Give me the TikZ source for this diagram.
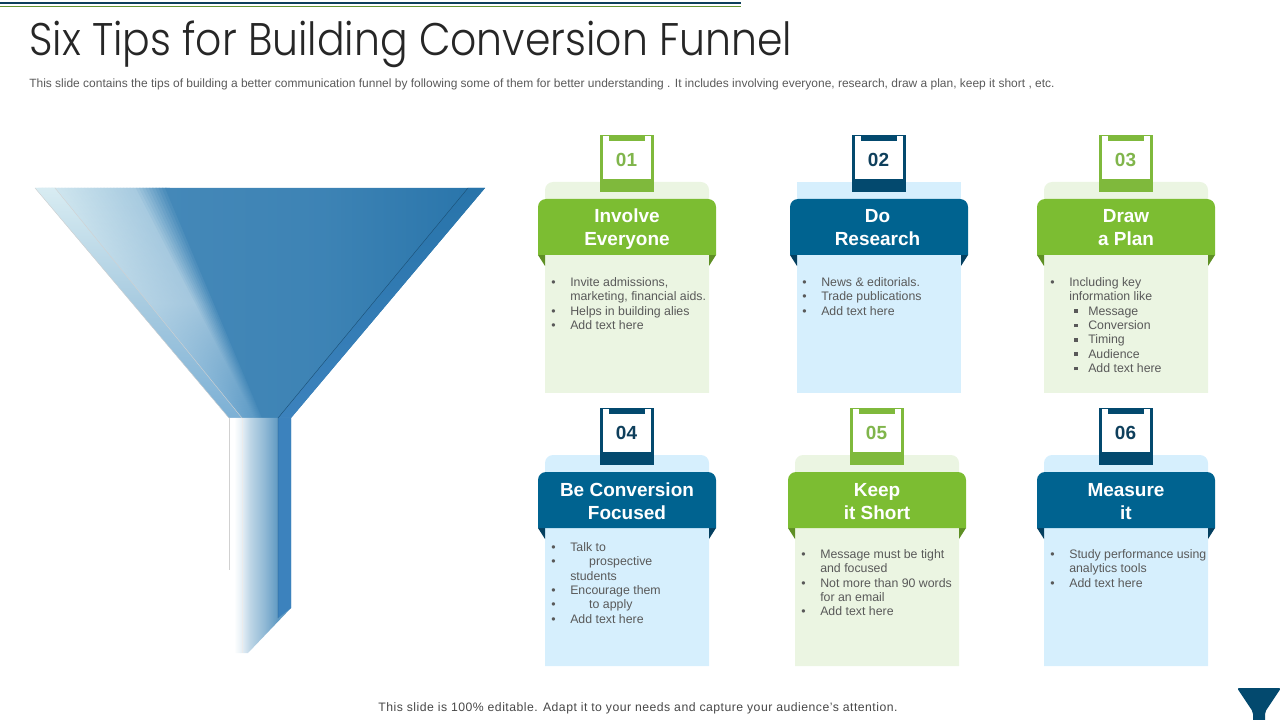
\documentclass[tikz,border=0pt]{standalone}
\usepackage{fontspec}
\usepackage{xcolor}
\setmainfont{Liberation Sans}
\newfontfamily\titlefont[UprightFont=* Light,FakeStretch=0.896]{Poppins}
\definecolor{maingreen}{HTML}{7CBD32}
\definecolor{darkgreen}{HTML}{5E8F24}
\definecolor{palegreen}{HTML}{EBF5E2}
\definecolor{tabgreen}{HTML}{7FB93C}
\definecolor{numgreen}{HTML}{80B54B}
\definecolor{mainblue}{HTML}{006390}
\definecolor{darkblue}{HTML}{043F5F}
\definecolor{paleblue}{HTML}{D6EFFD}
\definecolor{tabblue}{HTML}{03496E}
\definecolor{numblue}{HTML}{0E3F5C}
\definecolor{bodygrey}{HTML}{595959}
\definecolor{conemid}{HTML}{4488B8}
\definecolor{conedeep}{HTML}{2874AA}
\definecolor{toplight}{HTML}{D8ECF2}
\definecolor{topmid}{HTML}{A8CBE0}
\definecolor{midlight}{HTML}{B8D5E6}
\definecolor{midmid}{HTML}{A4C7DE}
\definecolor{botlight}{HTML}{7CB0D5}
\definecolor{botmid}{HTML}{5E9BC6}
\definecolor{rimblue}{HTML}{3C82BD}
\pgfdeclarehorizontalshading{stemshade}{100bp}{%
    color(0bp)=(white); color(29bp)=(white);
    color(35.5bp)=(white!86!conemid);
    color(42bp)=(white!65!conemid);
    color(54bp)=(white!40!conemid);
    color(64.5bp)=(white!15!conemid);
    color(100bp)=(white!15!conemid)}
\tikzset{
    headtext/.style={align=center, text=white, font=\fontsize{13.5}{16.4}\selectfont\bfseries},
    numtext/.style={font=\fontsize{13.5}{16}\selectfont\bfseries},
    bodytext/.style={anchor=north west, inner sep=0pt, align=left, text=bodygrey,
        font=\fontsize{8.77}{10.25}\selectfont},
}
\newcommand{\headlines}[2]{\strut #1\\\strut #2}
\newcommand{\tipitem}[1]{\makebox[13.5pt][l]{\textbullet}#1}
\newcommand{\tipmore}[1]{\hspace*{13.5pt}#1}
\newcommand{\tipsub}[1]{\hspace*{17pt}\makebox[10pt][l]{\raisebox{1.6pt}{\rule{2.6pt}{2.6pt}}}#1}
\begin{document}
\begin{tikzpicture}[x=0.025cm,y=-0.025cm]
    \useasboundingbox (0,0) rectangle (1280,720);
    % top rules
    \fill[numblue] (0,2.5) rectangle (741,4);
    \fill[tabgreen!80!black] (0,6) rectangle (741,7.5);
    \node[anchor=base west, inner sep=0pt, text=black!85, font=\fontsize{32.5}{36}\selectfont\titlefont]
        (title) at (29,56) {Six Tips for Building Conversion Funnel};
    \node[anchor=base west, inner sep=0pt, text=bodygrey, font=\fontsize{8.52}{10}\selectfont]
        (subtitle) at (29,88) {This slide contains the tips of building a better communication funnel by following some of them for better understanding . It includes involving everyone, research, draw a plan, keep it short , etc.};
    % funnel cone
    \foreach \k in {0,...,39} {
        \pgfmathsetmacro{\xtop}{35+130*\k/40}
        \pgfmathsetmacro{\xbot}{229+33*\k/40}
        \pgfmathsetmacro{\xtopr}{\xtop+8}
        \pgfmathsetmacro{\xbotr}{\xbot+3}
        \ifnum\k<30
            \pgfmathtruncatemacro{\pa}{100*\k/30}
            \colorlet{fantop}{topmid!\pa!toplight}
            \colorlet{fanmid}{midmid!\pa!midlight}
            \colorlet{fanbot}{botmid!\pa!botlight}
        \else
            \pgfmathtruncatemacro{\pa}{100*(\k-30)/10}
            \colorlet{fantop}{conemid!\pa!topmid}
            \colorlet{fanmid}{conemid!\pa!midmid}
            \colorlet{fanbot}{conemid!\pa!botmid}
        \fi
        \shade[top color=fantop, bottom color=fanbot, middle color=fanmid]
            (\xtop,188) -- (\xtopr,188) -- (\xbotr,418) -- (\xbot,418) -- cycle;
    }
    \shade[left color=conemid, right color=conedeep, middle color=conemid!75!conedeep]
        (165,188) -- (485,188) -- (291,418) -- (262,418) -- cycle;
    \shade[top color=toplight, bottom color=botlight, middle color=topmid]
        (35,188) -- (55,188) -- (242,418) -- (229,418) -- cycle;
    \shade[top color=conedeep, bottom color=rimblue]
        (468,188) -- (485,188) -- (291,418) -- (278,418) -- cycle;
    % funnel stem
    \shade[shading=stemshade]
        (229,418) -- (291,418) -- (291,608) -- (248,653) -- (229,653) -- cycle;
    \fill[rimblue] (278,418) -- (291,418) -- (291,608) -- (278,618) -- cycle;
    \draw[black!18, line width=0.3pt] (229,418) -- (229,570);
    \draw[black!8, line width=0.3pt] (242,418) -- (242,653);
    \draw[conedeep!70!black, line width=0.3pt] (468,188) -- (278,418) -- (278,618);
    \draw[black!18, line width=0.3pt] (55,188) -- (242,418);
    \draw[black!18, line width=0.3pt] (35,188) -- (229,418);
    % cards
    \foreach \num/\hx/\hy/\tone/\rad in {01/538/0/green/5.7pt,02/790/0/blue/0pt,03/1037/0/green/5.7pt,
                                         04/538/273/blue/5.7pt,05/788/273/green/5.7pt,06/1037/273/blue/5.7pt} {
        \fill[pale\tone, rounded corners=\rad] (\hx+7,\hy+393) -- (\hx+7,\hy+182) -- (\hx+171,\hy+182)
            [sharp corners] -- (\hx+171,\hy+393) -- cycle;
        \fill[dark\tone] (\hx,\hy+255) -- (\hx+7,\hy+255) -- (\hx+7,\hy+266) -- cycle;
        \fill[dark\tone] (\hx+178,\hy+255) -- (\hx+171,\hy+255) -- (\hx+171,\hy+266) -- cycle;
        \fill[main\tone, rounded corners=5.7pt] (\hx,\hy+255) -- (\hx,\hy+199) -- (\hx+178,\hy+199)
            [sharp corners] -- (\hx+178,\hy+255) -- cycle;
        \fill[tab\tone] (\hx+62,\hy+135) rectangle (\hx+116,\hy+192);
        \fill[white] (\hx+65,\hy+136) rectangle (\hx+113,\hy+179);
        \fill[tab\tone] (\hx+71,\hy+135) rectangle (\hx+107,\hy+141);
        \node[numtext, text=num\tone] (num\num) at (\hx+88.5,\hy+159.5) {\num};
    }
    % headings
    \node[headtext] (head01) at (627,229) {\headlines{Involve}{Everyone}};
    \node[headtext] (head02) at (877.5,229) {\headlines{Do}{Research}};
    \node[headtext] (head03) at (1126,229) {\headlines{Draw}{a Plan}};
    \node[headtext] (head04) at (627,503) {\headlines{Be Conversion}{Focused}};
    \node[headtext] (head05) at (877,503) {\headlines{Keep}{it Short}};
    \node[headtext] (head06) at (1126,503) {\headlines{Measure}{it}};
    % card texts
    \node[bodytext] (body01) at (551,277) {\tipitem{Invite admissions,}\\\tipmore{marketing, financial aids.}\\
        \tipitem{Helps in building alies}\\\tipitem{Add text here}};
    \node[bodytext] (body02) at (802,277) {\tipitem{News \& editorials.}\\\tipitem{Trade publications}\\\tipitem{Add text here}};
    \node[bodytext] (body03) at (1050,277) {\tipitem{Including key}\\\tipmore{information like}\\
        \tipsub{Message}\\\tipsub{Conversion}\\\tipsub{Timing}\\\tipsub{Audience}\\\tipsub{Add text here}};
    \node[bodytext] (body04) at (551,542) {\tipitem{Talk to}\\\tipitem{\hspace*{13.5pt}prospective}\\\tipmore{students}\\
        \tipitem{Encourage them}\\\tipitem{\hspace*{13.5pt}to apply}\\\tipitem{Add text here}};
    \node[bodytext] (body05) at (801,549) {\tipitem{Message must be tight}\\\tipmore{and focused}\\
        \tipitem{Not more than 90 words}\\\tipmore{for an email}\\\tipitem{Add text here}};
    \node[bodytext] (body06) at (1050,549) {\tipitem{Study performance using}\\\tipmore{analytics tools}\\\tipitem{Add text here}};
    % footer and corner mark
    \node[inner sep=0pt, text=bodygrey!80!black, font=\fontsize{8.7}{10}\selectfont\addfontfeatures{LetterSpace=4}] (footer) at (638,708.5)
        {This slide is 100\% editable. Adapt it to your needs and capture your audience's attention.};
    \fill[tabblue, rounded corners=1.5pt] (1237,688) -- (1281,688) -- (1265,712) -- (1265,722) -- (1253,722) -- (1253,712) -- cycle;
\end{tikzpicture}
\end{document}
